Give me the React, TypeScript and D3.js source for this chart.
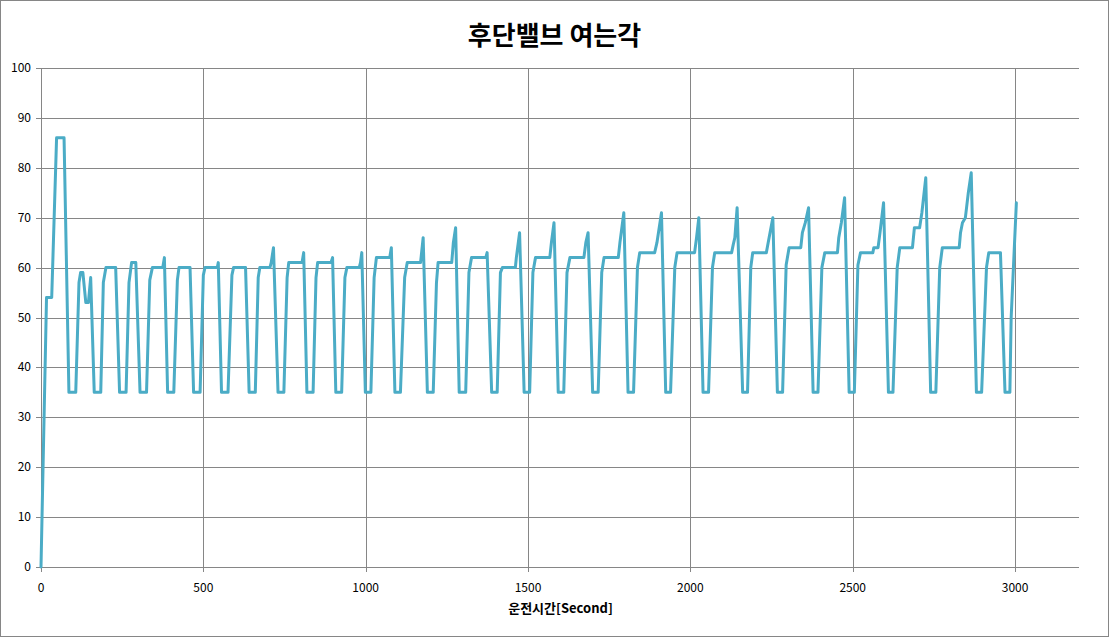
import React from 'react';
import * as d3 from 'd3';

const TITLE = '후단밸브 여는각';
const X_LABEL = '운전시간[Second]';
const X_TICKS = [0, 500, 1000, 1500, 2000, 2500, 3000];
const Y_TICKS = [0, 10, 20, 30, 40, 50, 60, 70, 80, 90, 100];

// operating time [s]
const TIME_SEC = [
  0, 17, 33, 48, 71, 86, 107,
  117, 122, 129, 138, 146, 153, 164, 184,
  192, 200, 230, 242, 262,
  271, 279, 292, 305, 325,
  335, 343, 375, 380, 390, 409,
  420, 425, 459, 470, 490,
  500, 505, 543, 546, 556, 576,
  588, 593, 630, 641, 660,
  669, 674, 705, 709, 716, 730, 748,
  758, 763, 804, 809, 819, 838,
  847, 852, 893, 898, 908, 926,
  936, 942, 980, 984, 988, 999, 1016,
  1026, 1033, 1074, 1079, 1090, 1107,
  1120, 1128, 1169, 1177, 1190, 1208,
  1218, 1223, 1265, 1270, 1277, 1288, 1308,
  1318, 1326, 1370, 1374, 1388, 1405,
  1415, 1421, 1461, 1464, 1474, 1488, 1505,
  1515, 1523, 1567, 1572, 1580, 1593, 1610,
  1620, 1629, 1672, 1678, 1685, 1699, 1716,
  1727, 1734, 1778, 1783, 1795, 1808, 1825,
  1837, 1844, 1890, 1897, 1911, 1924, 1939,
  1952, 1959, 2013, 2019, 2026, 2039, 2056,
  2068, 2075, 2127, 2132, 2137, 2144, 2161, 2176,
  2186, 2192, 2234, 2241, 2254, 2268, 2284,
  2295, 2304, 2340, 2345, 2354, 2364, 2378, 2393,
  2405, 2414, 2453, 2457, 2465, 2475, 2489, 2505,
  2516, 2524, 2562, 2565, 2578, 2584, 2595, 2610, 2624,
  2637, 2645, 2684, 2690, 2706, 2713, 2725, 2740, 2756,
  2768, 2776, 2828, 2832, 2838, 2847, 2856, 2865, 2881, 2897,
  2912, 2919, 2955, 2969, 2984,
  2988, 3004,
];

// rear valve opening angle
const OPENING = [
  0, 54, 54, 86, 86, 35, 35,
  57, 59, 59, 53, 53, 58, 35, 35,
  57, 60, 60, 35, 35,
  57, 61, 61, 35, 35,
  57.5, 60, 60, 62, 35, 35,
  57.5, 60, 60, 35, 35,
  58.5, 60, 60, 61, 35, 35,
  58.5, 60, 60, 35, 35,
  58, 60, 60, 61, 64, 35, 35,
  58, 61, 61, 63, 35, 35,
  58, 61, 61, 62, 35, 35,
  58, 60, 60, 61, 63, 35, 35,
  58, 62, 62, 64, 35, 35,
  58, 61, 61, 66, 35, 35,
  57, 61, 61, 65, 68, 35, 35,
  59, 62, 62, 63, 35, 35,
  59, 60, 60, 62, 67, 35, 35,
  59, 62, 62, 65, 69, 35, 35,
  59, 62, 62, 65, 67, 35, 35,
  59, 62, 62, 65, 71, 35, 35,
  60, 63, 63, 65, 71, 35, 35,
  60, 63, 63, 66, 70, 35, 35,
  60, 63, 63, 64.6, 66, 72, 35, 35,
  60, 63, 63, 65.5, 70, 35, 35,
  60.5, 64, 64, 67, 69, 72, 35, 35,
  60, 63, 63, 66, 69, 74, 35, 35,
  60.5, 63, 63, 64, 64, 67, 73, 35, 35,
  60, 64, 64, 68, 68, 71, 78, 35, 35,
  60, 64, 64, 67, 69, 70, 75, 79, 35, 35,
  60, 63, 63, 35, 35,
  50, 73,
];

const W = 1109;
const H = 637;
const PLOT = { left: 41, right: 1080, top: 68, bottom: 567 };
const GRID = '#868686';
const LINE = '#4BACC6';
const FONT = "'Noto Sans CJK KR', 'Noto Sans', sans-serif";

export default function App() {
  const x = d3.scaleLinear().domain([0, 3200]).range([PLOT.left, PLOT.right]);
  const y = d3.scaleLinear().domain([0, 100]).range([PLOT.bottom, PLOT.top]);
  const data: [number, number][] = TIME_SEC.map((t, i) => [t, OPENING[i]]);
  const path = d3
    .line<[number, number]>()
    .x((d) => x(d[0]))
    .y((d) => y(d[1]))(data) as string;
  const px = (v: number) => Math.round(v) + 0.5;

  return (
    <svg
      width={W}
      height={H}
      style={{ position: 'absolute', left: 0, top: 0, background: '#fff' }}
      fontFamily={FONT}
    >
      <rect x={0.5} y={0.5} width={W - 1} height={H - 1} fill="#fff" stroke={GRID} />
      <text
        x={W / 2}
        y={45}
        textAnchor="middle"
        fontSize={26}
        fontWeight="bold"
        fill="#000"
      >
        {TITLE}
      </text>
      {Y_TICKS.map((v) => (
        <g key={'y' + v}>
          <line
            x1={PLOT.left - 5}
            x2={PLOT.right - 1}
            y1={px(y(v))}
            y2={px(y(v))}
            stroke={GRID}
            strokeWidth={1}
          />
          <text
            x={31}
            y={y(v) + 4}
            textAnchor="end"
            fontSize={12}
            fill="#000"
          >
            {v}
          </text>
        </g>
      ))}
      {X_TICKS.map((v) => (
        <g key={'x' + v}>
          <line
            x1={px(x(v))}
            x2={px(x(v))}
            y1={PLOT.top}
            y2={PLOT.bottom + 5}
            stroke={GRID}
            strokeWidth={1}
          />
          <text x={x(v)} y={592} textAnchor="middle" fontSize={12} fill="#000">
            {v}
          </text>
        </g>
      ))}
      <path
        d={path}
        fill="none"
        stroke={LINE}
        strokeWidth={3}
        strokeLinejoin="round"
        strokeLinecap="round"
      />
      <text
        x={(PLOT.left + PLOT.right) / 2}
        y={613}
        textAnchor="middle"
        fontSize={13}
        fontWeight="bold"
        fill="#000"
      >
        {X_LABEL}
      </text>
    </svg>
  );
}
